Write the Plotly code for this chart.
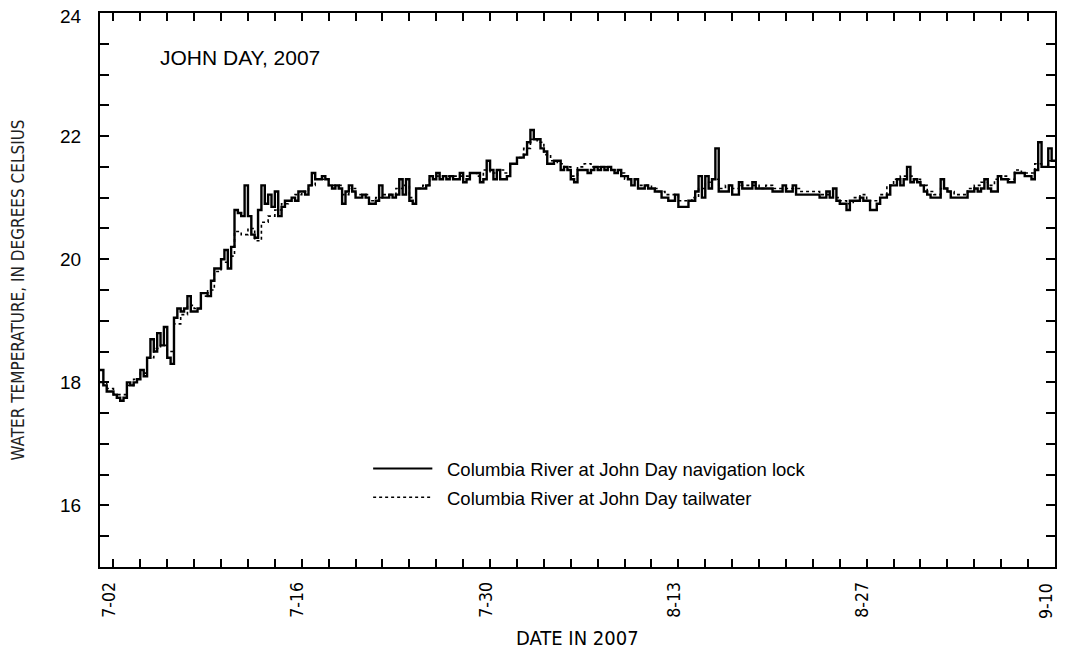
import pandas as pd
import plotly.graph_objects as go

# ---------------- data ----------------
# Columbia River at John Day navigation lock, 6-hourly readings starting 2007-07-01 00:00
lock_start = "2007-07-01 00:00"
lock_freq = "6h"
lock_temp = [
    18.2, 17.95, 17.85, 17.85,   # 7-01
    17.8, 17.75, 17.7, 17.75,    # 7-02
    18.0, 17.95, 18.0, 18.05,    # 7-03
    18.2, 18.1, 18.4, 18.7,      # 7-04
    18.5, 18.8, 18.6, 18.9,      # 7-05
    18.4, 18.3, 19.05, 19.2,     # 7-06
    19.15, 19.2, 19.4, 19.15,    # 7-07
    19.15, 19.2, 19.45, 19.45,   # 7-08
    19.4, 19.65, 19.85, 19.85,   # 7-09
    20.0, 20.15, 19.85, 20.2,    # 7-10
    20.8, 20.75, 20.7, 21.2,     # 7-11
    20.7, 20.4, 20.35, 20.8,     # 7-12
    21.2, 20.9, 21.05, 20.85,    # 7-13
    21.1, 20.7, 20.85, 20.95,    # 7-14
    20.95, 21.0, 20.95, 21.1,    # 7-15
    21.1, 21.05, 21.2, 21.4,     # 7-16
    21.3, 21.3, 21.35, 21.3,     # 7-17
    21.2, 21.15, 21.2, 21.15,    # 7-18
    20.9, 21.1, 21.2, 21.1,      # 7-19
    21.0, 21.0, 21.05, 21.0,     # 7-20
    20.9, 20.9, 20.95, 21.2,     # 7-21
    21.0, 21.0, 21.05, 21.0,     # 7-22
    21.05, 21.3, 21.05, 21.3,    # 7-23
    20.95, 20.9, 21.15, 21.15,   # 7-24
    21.15, 21.2, 21.35, 21.3,    # 7-25
    21.4, 21.3, 21.35, 21.3,     # 7-26
    21.35, 21.3, 21.3, 21.4,     # 7-27
    21.25, 21.3, 21.4, 21.4,     # 7-28
    21.4, 21.25, 21.3, 21.6,     # 7-29
    21.45, 21.3, 21.45, 21.3,    # 7-30
    21.3, 21.35, 21.55, 21.55,   # 7-31
    21.65, 21.65, 21.7, 21.9,    # 8-01
    22.1, 21.95, 21.95, 21.8,    # 8-02
    21.75, 21.55, 21.55, 21.6,   # 8-03
    21.6, 21.45, 21.5, 21.45,    # 8-04
    21.3, 21.25, 21.45, 21.45,   # 8-05
    21.45, 21.4, 21.45, 21.5,    # 8-06
    21.45, 21.5, 21.45, 21.5,    # 8-07
    21.45, 21.4, 21.45, 21.35,   # 8-08
    21.35, 21.3, 21.2, 21.3,     # 8-09
    21.15, 21.15, 21.2, 21.15,   # 8-10
    21.15, 21.1, 21.1, 21.0,     # 8-11
    21.0, 20.95, 20.95, 21.05,   # 8-12
    20.85, 20.85, 20.85, 20.95,  # 8-13
    20.95, 21.1, 21.35, 21.0,    # 8-14
    21.35, 21.15, 21.3, 21.8,    # 8-15
    21.1, 21.1, 21.1, 21.2,      # 8-16
    21.05, 21.05, 21.25, 21.15,  # 8-17
    21.15, 21.15, 21.25, 21.15,  # 8-18
    21.15, 21.15, 21.15, 21.15,  # 8-19
    21.1, 21.1, 21.1, 21.2,      # 8-20
    21.1, 21.1, 21.2, 21.05,     # 8-21
    21.05, 21.05, 21.05, 21.05,  # 8-22
    21.05, 21.05, 21.0, 21.0,    # 8-23
    21.1, 21.0, 21.15, 20.95,    # 8-24
    20.9, 20.9, 20.8, 20.95,     # 8-25
    20.95, 20.95, 21.0, 20.95,   # 8-26
    20.95, 20.8, 20.8, 20.9,     # 8-27
    21.0, 21.0, 21.05, 21.2,     # 8-28
    21.2, 21.3, 21.2, 21.3,      # 8-29
    21.5, 21.25, 21.3, 21.25,    # 8-30
    21.2, 21.1, 21.05, 21.0,     # 8-31
    21.0, 21.0, 21.3, 21.15,     # 9-01
    21.1, 21.0, 21.0, 21.0,      # 9-02
    21.0, 21.0, 21.1, 21.1,      # 9-03
    21.15, 21.1, 21.15, 21.3,    # 9-04
    21.15, 21.1, 21.1, 21.35,    # 9-05
    21.3, 21.3, 21.25, 21.25,    # 9-06
    21.4, 21.4, 21.4, 21.35,     # 9-07
    21.35, 21.3, 21.45, 21.9,    # 9-08
    21.5, 21.5, 21.8, 21.6,      # 9-09
    21.6,                        # 9-10
]

# Columbia River at John Day tailwater, 12-hourly readings starting 2007-07-01 00:00
tail_start = "2007-07-01 00:00"
tail_freq = "12h"
tail_temp = [
    18.0, 17.9, 17.8, 17.8, 17.95, 18.05, 18.15, 18.4, 18.55, 18.6,
    18.5, 18.95, 19.1, 19.25, 19.2, 19.4, 19.5, 19.8, 19.95, 20.05,
    20.45, 20.4, 20.5, 20.3, 20.6, 20.7, 20.8, 20.9, 20.95, 21.05,
    21.1, 21.2, 21.3, 21.3, 21.2, 21.2, 21.05, 21.15, 21.05, 21.05,
    20.95, 21.0, 21.05, 21.05, 21.15, 21.2, 21.0, 21.15, 21.2, 21.35,
    21.35, 21.35, 21.35, 21.35, 21.35, 21.4, 21.35, 21.45, 21.4, 21.45,
    21.4, 21.55, 21.65, 21.8, 21.95, 21.9, 21.7, 21.6, 21.55, 21.5,
    21.35, 21.5, 21.55, 21.5, 21.5, 21.5, 21.45, 21.4, 21.3, 21.3,
    21.2, 21.2, 21.15, 21.1, 21.05, 21.05, 20.95, 20.95, 21.0, 21.15,
    21.25, 21.3, 21.15, 21.2, 21.15, 21.2, 21.2, 21.2, 21.15, 21.2,
    21.15, 21.15, 21.15, 21.15, 21.1, 21.1, 21.1, 21.05, 21.05, 21.0,
    20.95, 20.9, 21.0, 21.05, 20.95, 20.95, 21.05, 21.2, 21.3, 21.35,
    21.35, 21.3, 21.2, 21.1, 21.05, 21.15, 21.1, 21.05, 21.05, 21.15,
    21.2, 21.25, 21.2, 21.3, 21.35, 21.3, 21.45, 21.4, 21.4, 21.55,
    21.5, 21.6, 21.6,
]

# axis ticks
x_tick_dates = pd.date_range("2007-07-02", "2007-09-10", freq="2D")
x_label_dates = ["7-02", "7-16", "7-30", "8-13", "8-27", "9-10"]
y_tick_vals = [15.5 + 0.5 * i for i in range(18)]
y_label_vals = [16, 18, 20, 22, 24]

series_names = [
    "Columbia River at John Day navigation lock",
    "Columbia River at John Day tailwater",
]
chart_title = "JOHN DAY, 2007"
x_title = "DATE IN 2007"
y_title = "WATER TEMPERATURE, IN DEGREES CELSIUS"

# ---------------- figure ----------------
lock_x = pd.date_range(lock_start, periods=len(lock_temp), freq=lock_freq)
tail_x = pd.date_range(tail_start, periods=len(tail_temp), freq=tail_freq)

fig = go.Figure()
fig.add_trace(go.Scatter(
    x=tail_x, y=tail_temp, mode="lines", line_shape="hv",
    line=dict(color="black", width=1.6, dash="dot"),
    name=series_names[1], showlegend=False,
))
fig.add_trace(go.Scatter(
    x=lock_x, y=lock_temp, mode="lines", line_shape="hv",
    line=dict(color="black", width=2.4),
    name=series_names[0], showlegend=False,
))

narrow = "Liberation Sans Narrow, DejaVu Sans Condensed, Arial Narrow, sans-serif"
regular = "Liberation Sans, Arial, sans-serif"

# labels at the very edge of the page are drawn as annotations nudged inward
edge_x_label = x_label_dates[-1]
edge_y_label = y_label_vals[-1]

x_text = []
for d in x_tick_dates:
    lab = f"{d.month}-{d.day:02d}"
    x_text.append(lab if (lab in x_label_dates and lab != edge_x_label) else "")
y_text = [str(int(v)) if (v in y_label_vals and v != edge_y_label) else "" for v in y_tick_vals]

fig.update_xaxes(
    range=["2007-07-01", "2007-09-10"],
    tickmode="array", tickvals=list(x_tick_dates), ticktext=x_text,
    tickangle=-90, ticks="inside", ticklen=8, tickwidth=1.8, tickcolor="black",
    ticklabelstandoff=6, ticklabelshift=-4, ticklabeloverflow="allow",
    showline=True, linecolor="black", linewidth=2, mirror="allticks",
    showgrid=False, zeroline=False, automargin=False,
    tickfont=dict(family=narrow, size=17.5, color="black"),
)
fig.update_yaxes(
    range=[15, 24],
    tickmode="array", tickvals=y_tick_vals, ticktext=y_text,
    ticks="inside", ticklen=9, tickwidth=1.8, tickcolor="black",
    ticklabelstandoff=13, ticklabeloverflow="allow",
    showline=True, linecolor="black", linewidth=2, mirror="allticks",
    showgrid=False, zeroline=False, automargin=False,
    tickfont=dict(family=regular, size=19, color="black"),
    title=dict(text=y_title, font=dict(family=narrow, size=17, color="#222"), standoff=34),
)

# edge tick labels
fig.add_annotation(xref="paper", yref="y", x=0, y=edge_y_label, xanchor="right", yanchor="middle",
                   xshift=-16, yshift=-3, height=15, text=str(edge_y_label), showarrow=False,
                   font=dict(family=regular, size=19, color="black"))
fig.add_annotation(xref="x", yref="paper", x=x_tick_dates[-1], y=0, xanchor="center", yanchor="top",
                   xshift=-9, yshift=-14, textangle=-90, text=edge_x_label, showarrow=False,
                   font=dict(family=narrow, size=17.5, color="black"))

# x-axis title
fig.add_annotation(xref="paper", yref="paper", x=0.5, y=0, xanchor="center", yanchor="middle",
                   yshift=-71, height=16, text=x_title, showarrow=False,
                   font=dict(family=narrow, size=20, color="black"))

# manual legend
fig.add_shape(type="line", xref="paper", yref="paper", x0=0.286, x1=0.348, y0=0.178, y1=0.178,
              line=dict(color="black", width=2))
fig.add_shape(type="line", xref="paper", yref="paper", x0=0.286, x1=0.348, y0=0.126, y1=0.126,
              line=dict(color="black", width=1.6, dash="dot"))
fig.add_annotation(xref="paper", yref="paper", x=0.361, y=0.176, xanchor="left", yanchor="middle",
                   text=series_names[0], showarrow=False,
                   font=dict(family=regular, size=18.5, color="black"))
fig.add_annotation(xref="paper", yref="paper", x=0.361, y=0.124, xanchor="left", yanchor="middle",
                   text=series_names[1], showarrow=False,
                   font=dict(family=regular, size=18.5, color="black"))
fig.add_annotation(xref="paper", yref="paper", x=0.061, y=0.92, xanchor="left", yanchor="middle",
                   text=chart_title, showarrow=False,
                   font=dict(family=regular, size=21, color="black"))

# the page body adds an 8 px margin around the figure; size the figure so that
# the plot frame lands at x 100..1055, y 13..567 of the 1065x653 window
fig.update_layout(
    width=1049, height=637,
    margin=dict(l=92, r=2, t=5, b=78, autoexpand=False),
    paper_bgcolor="white", plot_bgcolor="white",
    showlegend=False,
)

fig.write_html("out.html")
